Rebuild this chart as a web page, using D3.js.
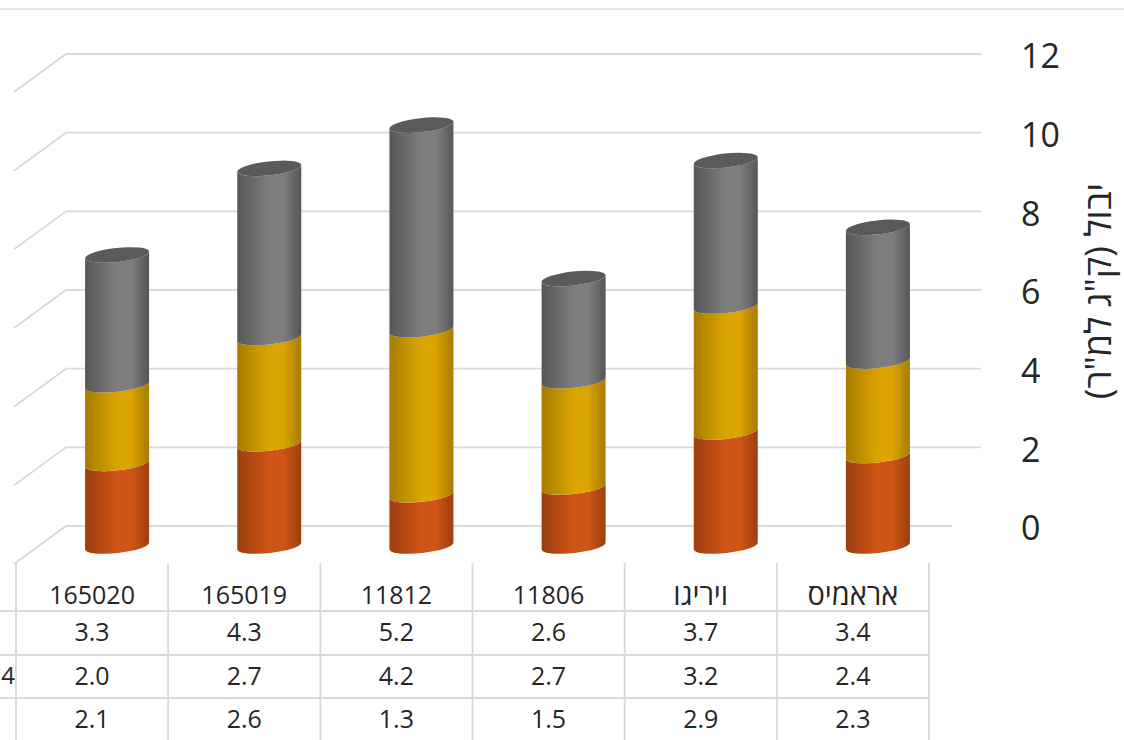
<!DOCTYPE html>
<html><head><meta charset="utf-8">
<script src="https://cdnjs.cloudflare.com/ajax/libs/d3/7.8.5/d3.min.js"></script>
<style>html,body{margin:0;padding:0;background:#fff;overflow:hidden}svg{display:block}text{font-family:"Open Sans",sans-serif;fill:#262626}</style>
</head><body><svg id="c" width="1124" height="740"></svg>
<script>
const categories = ["165020","165019","11812","11806","ויריגו","אראמיס"];
const seriesGray = [3.3,4.3,5.2,2.6,3.7,3.4];
const seriesYellow = [2.0,2.7,4.2,2.7,3.2,2.4];
const seriesOrange = [2.1,2.6,1.3,1.5,2.9,2.3];
const yTicks = [0,2,4,6,8,10,12];
const yTitle = 'יבול (ק"ג למ"ר)';
const clippedRowLabels = ["","4",""];

const svg = d3.select("#c");
const defs = svg.append("defs");
const y = d3.scaleLinear().domain([0,12]).range([526,54]);
const x = d3.scaleBand().domain(categories).range([16,929]);
const depthX = -52, depthY = 38, baseShift = 20, barShift = 25;
const grid = "#d9d9d9";

function grad(id, edge, mid){
  const g = defs.append("linearGradient").attr("id",id);
  [[0,edge],[.5,mid],[.72,mid],[1,edge]].forEach(s=>g.append("stop").attr("offset",s[0]).attr("stop-color",s[1]));
}
grad("gO","#9c3f10","#cf5516");
grad("gY","#a67c00","#dba400");
grad("gG","#565656","#7e7e7e");

svg.append("line").attr("x1",0).attr("x2",1124).attr("y1",9).attr("y2",9).attr("stroke","#dedede").attr("stroke-width",1.6);

const gridG = svg.append("g").attr("fill","none").attr("stroke",grid).attr("stroke-width",1.8);
gridG.selectAll("path").data(yTicks).join("path")
  .attr("d",t=>`M${66+depthX},${y(t)+depthY}L66,${y(t)}H${t===0?952:981}`);

const axis = d3.axisRight(y).tickValues(yTicks).tickSize(0).tickPadding(0);
const ax = svg.append("g").attr("transform","translate(1021,2)").call(axis);
ax.select(".domain").remove();
ax.selectAll("text").style("font-size","34px").attr("fill","#262626").attr("dy","0.35em");

svg.append("text").attr("transform","translate(1101,291) rotate(-90)")
  .attr("text-anchor","middle").attr("dominant-baseline","middle")
  .attr("direction","rtl").style("font-size","36px").text(yTitle);

const r = 32, dy = 3.5, ry = 7;
const rot = -Math.atan2(dy,r)*180/Math.PI, rx = Math.hypot(r,dy);
const stack = d3.stack().keys([0,1,2]).value((d,k)=>d[k])(categories.map((c,i)=>[seriesOrange[i],seriesYellow[i],seriesGray[i]]));
const fills = ["url(#gO)","url(#gY)","url(#gG)"];
const cx = i => x(categories[i]) + x.bandwidth()/2 + barShift;
const yb = v => y(v) + baseShift;

svg.append("g").selectAll("g").data(stack).join("g").attr("fill",(d,i)=>fills[i])
  .selectAll("path").data(d=>d.map((p,i)=>({p,i}))).join("path")
  .attr("d",({p,i})=>{
    const c=cx(i), b=yb(p[0]), t=yb(p[1]);
    return `M${c-r},${b+dy}A${rx},${ry},${rot},0,0,${c+r},${b-dy}V${t-dy}A${rx},${ry},${rot},0,1,${c-r},${t+dy}Z`;
  });

svg.append("g").selectAll("path").data(categories).join("path")
  .attr("fill","#5a5a5a")
  .attr("d",(d,i)=>{
    const c=cx(i), t=yb(stack[2][i][1]);
    return `M${c-r},${t+dy}A${rx},${ry},${rot},1,1,${c+r},${t-dy}A${rx},${ry},${rot},1,1,${c-r},${t+dy}Z`;
  });

// data table
const rowYs = [611,655,698];
const rowText = [634,678,721];
const rows = [seriesGray,seriesYellow,seriesOrange];
const tb = svg.append("g");
tb.selectAll("line.h").data(rowYs).join("line").attr("class","h")
  .attr("x1",0).attr("x2",929).attr("y1",d=>d).attr("y2",d=>d).attr("stroke",grid).attr("stroke-width",1.8);
tb.selectAll("line.v").data(d3.range(categories.length+1)).join("line").attr("class","v")
  .attr("x1",i=>16+i*x.step()).attr("x2",i=>16+i*x.step()).attr("y1",563).attr("y2",740).attr("stroke",grid).attr("stroke-width",1.8);
tb.selectAll("text.cat").data(categories).join("text").attr("class","cat")
  .attr("x",d=>x(d)+x.bandwidth()/2).attr("y",597).attr("dominant-baseline","middle").attr("text-anchor","middle")
  .style("font-size",d=>/^\d/.test(d)?"25px":"29px").text(d=>d);
rows.forEach((vals,ri)=>{
  tb.append("g").selectAll("text").data(vals).join("text")
    .attr("x",(d,i)=>x(categories[i])+x.bandwidth()/2).attr("y",rowText[ri]).attr("dominant-baseline","middle")
    .attr("text-anchor","middle").style("font-size","25px").text(d=>d.toFixed(1));
});
tb.selectAll("text.clip").data(clippedRowLabels).join("text").attr("class","clip")
  .attr("x",15).attr("y",(d,i)=>rowText[i]).attr("dominant-baseline","middle").attr("text-anchor","end")
  .style("font-size","24px").text(d=>d);
</script></body></html>
